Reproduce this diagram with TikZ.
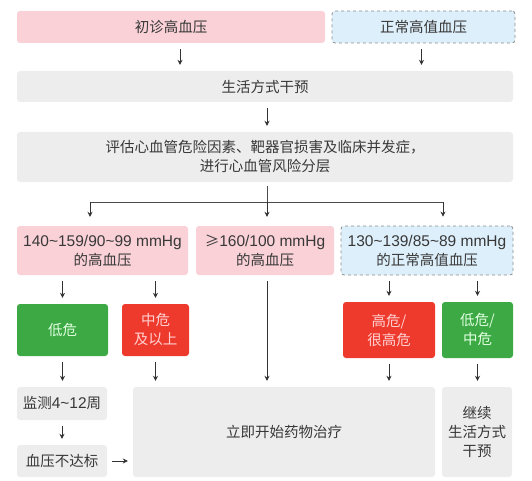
\documentclass[tikz,border=0pt]{standalone}
\usepackage{fontspec}
\setmainfont{Noto Sans CJK SC}
\newfontfamily\latin{Liberation Sans}
\usetikzlibrary{arrows.meta}
\definecolor{pinkfill}{HTML}{F9D1D7}
\definecolor{bluefill}{HTML}{DDEFFA}
\definecolor{grayfill}{HTML}{EDEDED}
\definecolor{greenfill}{HTML}{3DA945}
\definecolor{redfill}{HTML}{EE3A2C}
\newcommand\gap{6pt}
\newcommand\nums[1]{{\latin\fontsize{15.5}{19}\selectfont #1}}

\begin{document}
\begin{tikzpicture}[x=1pt, y=-1pt,
    box/.style={rounded corners=3pt, inner sep=0pt, align=center, text=black!78,
        font=\fontsize{14.5}{19}\selectfont},
    hyper/.style={box, fill=pinkfill},
    normal/.style={box, fill=bluefill, draw=black!45, dashed, line width=0.8pt},
    plain/.style={box, fill=grayfill},
    lowrisk/.style={box, fill=greenfill, text=green!12},
    highrisk/.style={box, fill=redfill, text=red!18},
    arr/.style={-{Stealth[length=5pt, width=5pt]}, draw=black!80, line width=0.7pt,
        shorten <=\gap, shorten >=\gap},
    link/.style={draw=black!70, line width=0.7pt}]

    \useasboundingbox (0, 0) rectangle (532, 481);

    % Start
    \node at (171, 27) [hyper, minimum width=308, minimum height=32] (diag) {初诊高血压};
    \node at (423.5, 27) [normal, minimum width=183, minimum height=32] (norm) {正常高值血压};
    \node at (265, 86.5) [plain, minimum width=496, minimum height=31] (life) {生活方式干预};
    \node at (265, 157) [plain, minimum width=496, minimum height=50] (eval)
        {评估心血管危险因素、靶器官损害及临床并发症，\\进行心血管风险分层};

    % Blood pressure level
    \node at (102.5, 250.5) [hyper, minimum width=171, minimum height=49] (bpa)
        {\nums{140\textasciitilde159/90\textasciitilde99 mmHg}\\的高血压};
    \node at (265, 250.5) [hyper, minimum width=138, minimum height=49] (bpb)
        {≥\nums{160/100 mmHg}\\的高血压};
    \node at (427, 250.5) [normal, minimum width=172, minimum height=49] (bpc)
        {\nums{130\textasciitilde139/85\textasciitilde89 mmHg}\\的正常高值血压};

    % Risk
    \node at (62.5, 330) [lowrisk, minimum width=91, minimum height=52] (low) {低危};
    \node at (155.5, 330) [highrisk, minimum width=67, minimum height=52] (mid) {中危\\及以上};
    \node at (389, 330) [highrisk, minimum width=92, minimum height=56] (high) {高危/\\很高危};
    \node at (477.5, 330) [lowrisk, minimum width=71, minimum height=56] (lowmid) {低危/\\中危};

    % Action
    \node at (62, 403.5) [plain, minimum width=90, minimum height=33] (watch)
        {监测\nums{4\textasciitilde12}周};
    \node at (62, 461) [plain, minimum width=90, minimum height=32] (miss) {血压不达标};
    \node at (284, 432) [plain, minimum width=302, minimum height=90] (drug) {立即开始药物治疗};
    \node at (477, 432) [plain, minimum width=70, minimum height=90] (keep) {继续\\生活方式\\干预};

    \coordinate (fork) at (265, 202);
    \coordinate (forkl) at (90, 202);
    \coordinate (forkr) at (443, 202);

    \draw[arr] ([xshift=9pt] diag.south) -- ([xshift=9pt] diag.south |- life.north);
    \draw[arr] ([xshift=-2pt] norm.south) -- ([xshift=-2pt] norm.south |- life.north);
    \draw[arr] ([xshift=2pt] life.south) -- ([xshift=2pt] life.south |- eval.north);

    \draw[link, shorten <=4pt] ([xshift=2pt] eval.south) -- ([xshift=2pt] fork);
    \draw[link] (forkl) -- (forkr);
    \draw[arr, shorten <=0pt, shorten >=9pt] (forkl) -- (forkl |- bpa.north);
    \draw[arr, shorten <=0pt, shorten >=9pt] ([xshift=2pt] fork) -- ([xshift=2pt] fork |- bpb.north);
    \draw[arr, shorten <=0pt, shorten >=9pt] (forkr) -- (forkr |- bpc.north);

    \draw[arr] (low.north |- bpa.south) -- (low.north);
    \draw[arr] (mid.north |- bpa.south) -- (mid.north);
    \draw[arr] (high.north |- bpc.south) -- (high.north);
    \draw[arr] (lowmid.north |- bpc.south) -- (lowmid.north);

    \draw[arr] ([xshift=2pt] bpb.south) -- ([xshift=2pt] bpb.south |- drug.north);
    \draw[arr] (low.south) -- (low.south |- watch.north);
    \draw[arr] (mid.south) -- (mid.south |- drug.north);
    \draw[arr] (high.south) -- (high.south |- drug.north);
    \draw[arr] (lowmid.south) -- (lowmid.south |- keep.north);
    \draw[arr] (watch) -- (miss);
    \draw[arr, shorten <=5pt, shorten >=5pt] (miss.east) -- (miss.east -| drug.west);

\end{tikzpicture}
\end{document}
